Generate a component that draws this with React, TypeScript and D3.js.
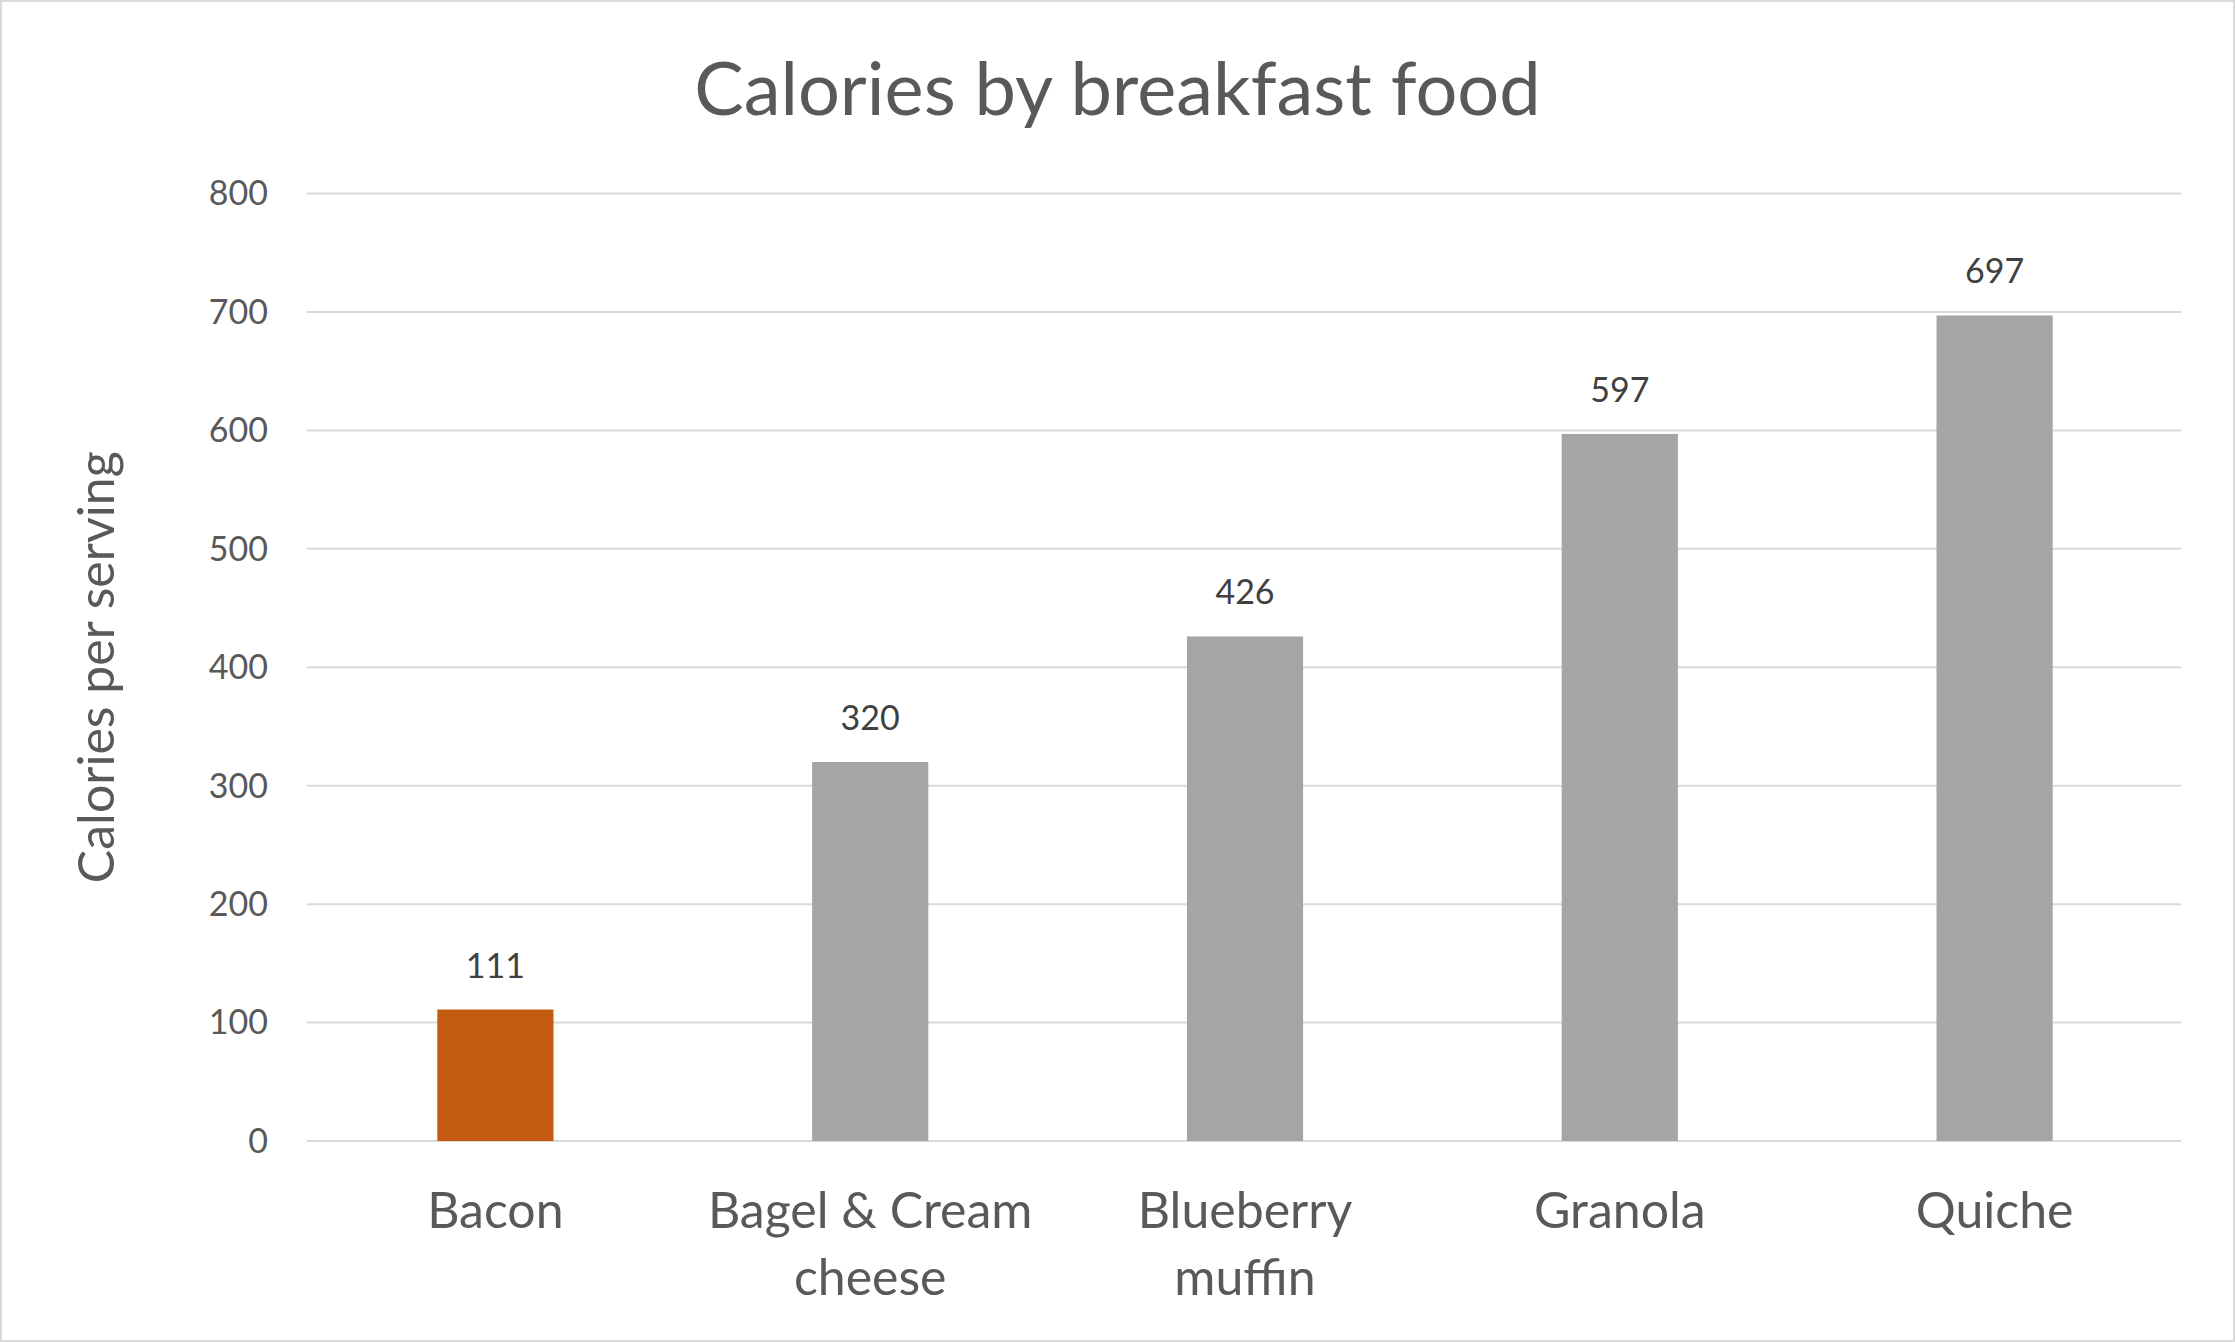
import React from "react";
import * as d3 from "d3";

const categories = ["Bacon", "Bagel & Cream cheese", "Blueberry muffin", "Granola", "Quiche"];
const categoryLines = [["Bacon"], ["Bagel & Cream", "cheese"], ["Blueberry", "muffin"], ["Granola"], ["Quiche"]];
const calories = [111, 320, 426, 597, 697];
const highlight = ["Bacon"];
const yTicks = [0, 100, 200, 300, 400, 500, 600, 700, 800];
const title = "Calories by breakfast food";
const yTitle = "Calories per serving";

const W = 2235;
const H = 1342;
const FONT = "Lato, 'Open Sans', sans-serif";

export default function App() {
  const left = 308, right = 2182, top = 193.5, bottom = 1141;
  const x = d3.scaleBand<string>().domain(categories).range([left, right]).paddingInner(0.69).paddingOuter(0.345);
  const y = d3.scaleLinear().domain([0, 800]).range([bottom, top]);

  return (
    <svg width={W} height={H} style={{ position: "absolute", left: 0, top: 0, background: "#fff" }}>
      <rect x={1} y={1} width={W - 2} height={H - 2} fill="#fff" stroke="#d9d9d9" strokeWidth={2} />
      <text x={W / 2} y={115} textAnchor="middle" fontFamily={FONT} fontSize={74} fill="#595959">{title}</text>
      {yTicks.map((t) => (
        <g key={t}>
          <line x1={left - 1} x2={right - 1} y1={y(t)} y2={y(t)} stroke="#d9d9d9" strokeWidth={2} />
          <text x={268} y={y(t)} dy="0.35em" textAnchor="end" fontFamily={FONT} fontSize={34} fill="#595959">{t}</text>
        </g>
      ))}
      {categories.map((c, i) => {
        const bx = x(c)!;
        const bw = x.bandwidth();
        const cx = bx + bw / 2;
        return (
          <g key={c}>
            <rect x={bx} y={y(calories[i])} width={bw} height={y(0) - y(calories[i])}
              fill={highlight.includes(c) ? "#c55a11" : "#a5a5a5"} />
            <text x={cx} y={y(calories[i]) - 32} textAnchor="middle" fontFamily={FONT} fontSize={34} fill="#404040">{calories[i]}</text>
            {categoryLines[i].map((ln, j) => (
              <text key={j} x={cx} y={1228 + j * 67} textAnchor="middle" fontFamily={FONT} fontSize={50} fill="#595959">{ln}</text>
            ))}
          </g>
        );
      })}
      <text transform={`translate(114, ${(top + bottom) / 2}) rotate(-90)`} textAnchor="middle" fontFamily={FONT} fontSize={50} fill="#595959">{yTitle}</text>
    </svg>
  );
}
